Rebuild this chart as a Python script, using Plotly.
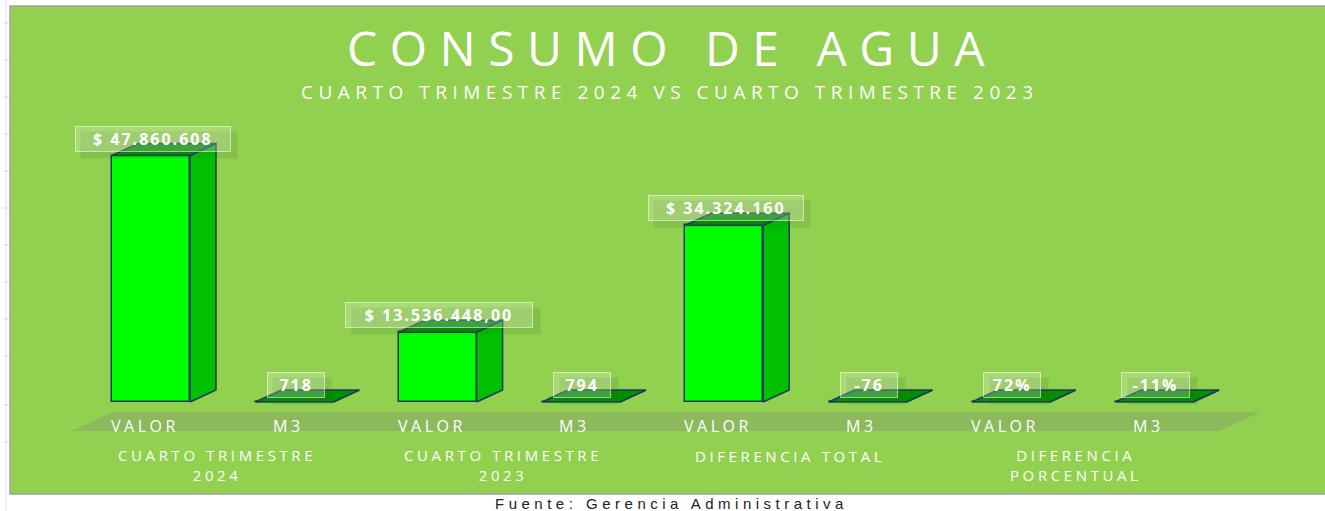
import plotly.graph_objects as go

# ---------------- data ----------------
categories = ["VALOR", "M3", "VALOR", "M3", "VALOR", "M3", "VALOR", "M3"]
groups = ["CUARTO TRIMESTRE<br>2024", "CUARTO TRIMESTRE<br>2023",
          "DIFERENCIA TOTAL", "DIFERENCIA<br>PORCENTUAL"]
values = [47860608, 718, 13536448, 794, 34324160, -76, 0.72, -0.11]
value_labels = ["$ 47.860.608", "718", "$ 13.536.448,00", "794",
                "$ 34.324.160", "-76", "72%", "-11%"]
title_text = "CONSUMO DE AGUA"
subtitle_text = "CUARTO TRIMESTRE 2024 VS CUARTO TRIMESTRE 2023"
source_text = "Fuente: Gerencia Administrativa"

# ---------------- geometry / style ----------------
W, H = 1325, 511
ML, MR, MT, MB = 10, 0, 6, 17
PX_PER_CAT = 143.3
PX_PER_Y = 5.15e-6
X0_PX = 151.0
Y0_PX = 402.0

def px2x(px):
    return (px - X0_PX) / PX_PER_CAT

def py2y(py):
    return (Y0_PX - py) / PX_PER_Y

def py2paper(py):
    return (H - MB - py) / (H - MT - MB)

def px2paper(px):
    return (px - ML) / (W - ML - MR)

BW = 78 / PX_PER_CAT
DX = 26 / PX_PER_CAT
DY = 12 / PX_PER_Y

BG = "#92D050"
FRONT = "#00FF00"
SIDE = "#00C000"
TOP = "#009000"
EDGE = "#1F3A60"
FONT = "Open Sans"

def spaced(text, sp):
    return "<br>".join(f'<span style="letter-spacing:{sp}px">{t}</span>'
                       for t in text.split("<br>"))

xs = list(range(len(categories)))
fig = go.Figure()

# front faces
fig.add_trace(go.Bar(x=xs, y=values, width=BW, marker=dict(color=FRONT, line=dict(color=EDGE, width=1.5)),
                     hoverinfo="skip", showlegend=False))

# side + top faces
for i, v in zip(xs, values):
    xr = i + BW / 2
    xl = i - BW / 2
    fig.add_trace(go.Scatter(
        x=[xr, xr + DX, xr + DX, xr, xr], y=[0, DY, v + DY, v, 0],
        fill="toself", fillcolor=SIDE, mode="lines",
        line=dict(color=EDGE, width=1.5), hoverinfo="skip", showlegend=False))
    fig.add_trace(go.Scatter(
        x=[xl, xl + DX, xr + DX, xr, xl], y=[v, v + DY, v + DY, v, v],
        fill="toself", fillcolor=TOP, mode="lines",
        line=dict(color=EDGE, width=1.5), hoverinfo="skip", showlegend=False))

shapes = []
# floor band
fx = [px2x(72), px2x(113), px2x(1260), px2x(1219)]
fy_top, fy_bot = py2y(412), py2y(431)
shapes.append(dict(type="path", xref="x", yref="y", layer="below",
                   path=f"M {fx[0]} {fy_bot} L {fx[1]} {fy_top} L {fx[2]} {fy_top} L {fx[3]} {fy_bot} Z",
                   fillcolor="#8CB95C", line=dict(width=0)))
# chart border
shapes.append(dict(type="rect", xref="paper", yref="paper", x0=0, x1=1.01, y0=0, y1=1,
                   line=dict(color="#A0A0A0", width=1.5)))
# spreadsheet grid remnants on the left
shapes.append(dict(type="line", xref="paper", yref="paper", x0=px2paper(6), x1=px2paper(6),
                   y0=py2paper(0), y1=py2paper(511), line=dict(color="#E0E0E0", width=1)))
for gy in [23, 60, 97, 134, 171, 208, 245, 282, 319, 356, 405, 442]:
    shapes.append(dict(type="line", xref="paper", yref="paper", x0=px2paper(3), x1=px2paper(9),
                       y0=py2paper(gy), y1=py2paper(gy), line=dict(color="#D8D8D8", width=1)))

annotations = []
# data labels (shadow + box)
for i, (v, lab) in enumerate(zip(values, value_labels)):
    w = 10.8 * len(lab) + 24
    annotations.append(dict(x=i, y=v, xref="x", yref="y", text=" ", showarrow=False,
                            width=w, height=24, xshift=8, yshift=11,
                            bgcolor="rgba(40,90,20,0.13)"))
    annotations.append(dict(x=i, y=v, xref="x", yref="y", text=spaced(lab, 2), showarrow=False,
                            width=w, height=24, xshift=1.5, yshift=17, align="center",
                            bgcolor="rgba(255,255,255,0.22)", bordercolor="rgba(255,255,255,0.55)",
                            borderwidth=1, borderpad=0,
                            font=dict(family=FONT, size=16, color="white", weight="bold")))
# category labels
for i, c in enumerate(categories):
    annotations.append(dict(x=i, y=py2paper(426), xref="x", yref="paper", xshift=-6,
                            text=spaced(c, 3.5), showarrow=False, yanchor="middle",
                            font=dict(family=FONT, size=16, color="white")))
# group labels
for g, name in enumerate(groups):
    gy = 465 if "<br>" in name else 456
    annotations.append(dict(x=2 * g + 0.5, y=py2paper(gy), xref="x", yref="paper",
                            xshift=-6, text=spaced(name, 3.6), showarrow=False, yanchor="middle",
                            align="center", font=dict(family=FONT, size=15, color="white")))
# title / subtitle
annotations.append(dict(x=0.5, y=py2paper(47), xref="paper", yref="paper", text=spaced(title_text, 12.5),
                        showarrow=False, yanchor="middle", height=50, xshift=4,
                        font=dict(family=FONT, size=48, color="white")))
annotations.append(dict(x=0.5, y=py2paper(91.5), xref="paper", yref="paper", text=spaced(subtitle_text, 5.5),
                        showarrow=False, yanchor="middle", height=22, xshift=2,
                        font=dict(family=FONT, size=19, color="white")))
# source
annotations.append(dict(x=px2paper(671), y=py2paper(503), xref="paper", yref="paper",
                        text=spaced(source_text, 4.5), showarrow=False, yanchor="middle", height=16,
                        font=dict(family="Liberation Sans", size=15, color="#222222")))

fig.update_layout(
    width=W, height=H,
    margin=dict(l=ML, r=MR, t=MT, b=MB, pad=0),
    paper_bgcolor="white", plot_bgcolor=BG,
    xaxis=dict(range=[px2x(ML), px2x(W - MR)], visible=False, fixedrange=True),
    yaxis=dict(range=[py2y(H - MB), py2y(MT)], visible=False, fixedrange=True),
    shapes=shapes, annotations=annotations,
    bargap=0, showlegend=False,
)
fig.write_html("out.html", config={"displayModeBar": False},
               post_script="document.body.style.margin='0';document.body.style.overflow='hidden';")
